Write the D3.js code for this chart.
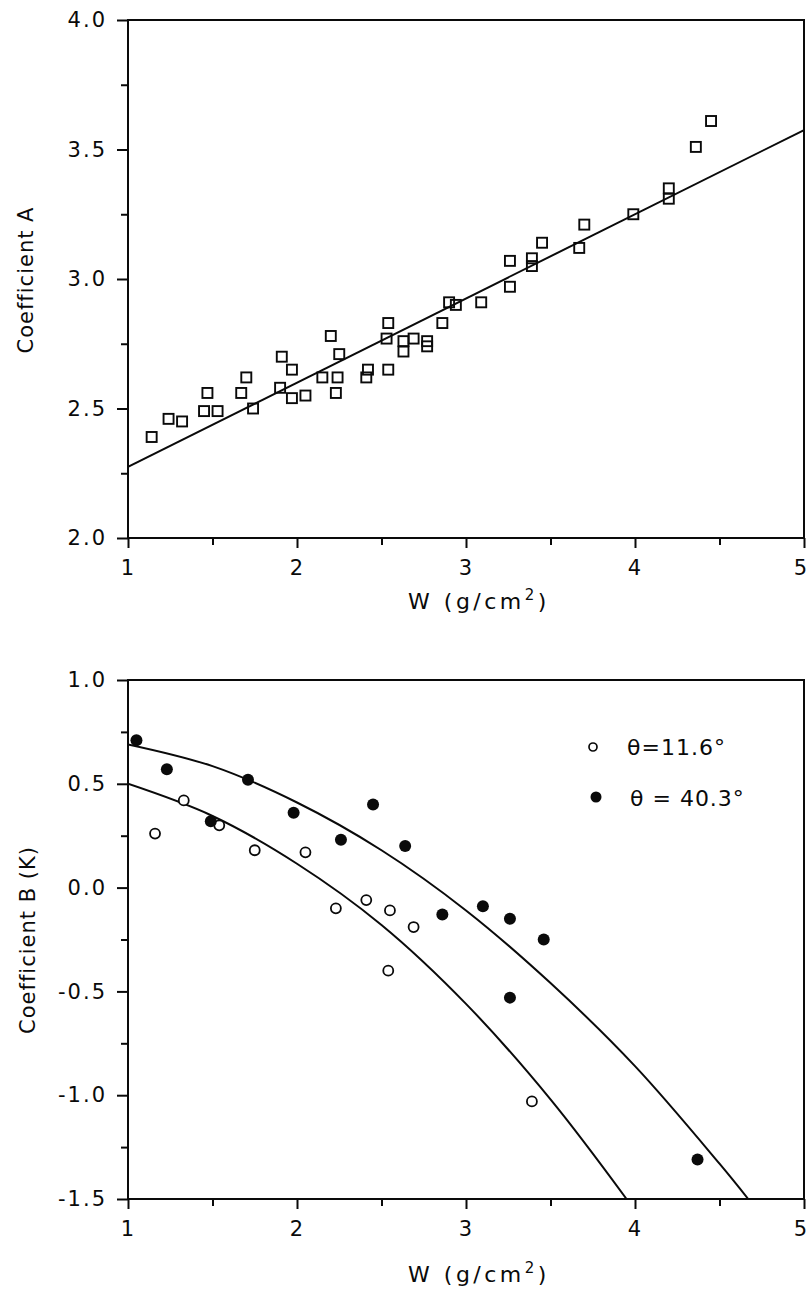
<!DOCTYPE html>
<html><head><meta charset="utf-8">
<script src="https://cdn.jsdelivr.net/npm/d3@7"></script>
<style>
body{margin:0;background:#fff}
svg{display:block}
text{font-family:"DejaVu Sans",sans-serif;fill:#0a0a0a}
</style>
</head><body>
<svg id="c" width="810" height="1292"></svg>
<script>
// ---- Data ----
const xTicks = [1, 2, 3, 4, 5];
const xMinor = [1.5, 2.5, 3.5, 4.5];

// Top panel: Coefficient A vs W
const aW   = [1.14,1.24,1.32,1.45,1.47,1.53,1.67,1.70,1.74,1.91,1.90,1.97,1.97,2.05,2.15,2.20,2.24,2.23,2.25,2.41,2.42,2.53,2.54,2.54,2.63,2.63,2.69,2.77,2.77,2.86,2.90,2.94,3.09,3.26,3.26,3.39,3.39,3.45,3.67,3.70,3.99,4.20,4.20,4.36,4.45];
const aVal = [2.39,2.46,2.45,2.49,2.56,2.49,2.56,2.62,2.50,2.70,2.58,2.65,2.54,2.55,2.62,2.78,2.62,2.56,2.71,2.62,2.65,2.77,2.83,2.65,2.76,2.72,2.77,2.76,2.74,2.83,2.91,2.90,2.91,2.97,3.07,3.08,3.05,3.14,3.12,3.21,3.25,3.35,3.31,3.51,3.61];
const fitAW = [1, 5];
const fitA  = [2.275, 3.575];
const aTicks = [2.0, 2.5, 3.0, 3.5, 4.0];
const aMinor = [2.25, 2.75, 3.25, 3.75];

// Bottom panel: Coefficient B vs W
const b11W = [1.16,1.33,1.54,1.75,2.05,2.23,2.41,2.55,2.69,2.54,3.39];
const b11  = [0.26,0.42,0.30,0.18,0.17,-0.10,-0.06,-0.11,-0.19,-0.40,-1.03];
const b40W = [1.05,1.23,1.49,1.71,1.98,2.26,2.45,2.64,2.86,3.10,3.26,3.46,3.26,4.37];
const b40  = [0.71,0.57,0.32,0.52,0.36,0.23,0.40,0.20,-0.13,-0.09,-0.15,-0.25,-0.53,-1.31];
const fit11W = [1.0, 1.5, 2.0, 2.5, 3.0, 3.5, 3.95];
const fit11  = [0.50, 0.345, 0.115, -0.18, -0.56, -1.02, -1.50];
const fit40W = [1.0, 1.5, 2.0, 2.5, 3.0, 3.5, 4.0, 4.5, 4.67];
const fit40  = [0.69, 0.585, 0.41, 0.18, -0.11, -0.46, -0.86, -1.33, -1.50];
const bTicks = [-1.5, -1.0, -0.5, 0.0, 0.5, 1.0];
const bMinor = [-1.25, -0.75, -0.25, 0.25, 0.75];
const legendLabels = ["θ=11.6°", "θ = 40.3°"];
const xTitle = ["W (g/cm", "2", ")"];

// ---- Drawing ----
const svg = d3.select("#c");
const L = 128, R = 804;
const x = d3.scaleLinear().domain([1, 5]).range([L, R]);
const ink = "#0a0a0a";

function panel(top, bottom, ydom, ticks, minor, yTitle, titleY, titleBase, xTitleBase) {
  const y = d3.scaleLinear().domain(ydom).range([bottom, top]);
  const g = svg.append("g");
  const axL = g.append("g").attr("transform", `translate(${L},0)`)
    .call(d3.axisLeft(y).tickValues(ticks).tickSize(11).tickPadding(12).tickFormat(d => d.toFixed(1)));
  const axLm = g.append("g").attr("transform", `translate(${L},0)`)
    .call(d3.axisLeft(y).tickValues(minor).tickSize(7).tickFormat(""));
  const axB = g.append("g").attr("transform", `translate(0,${bottom})`)
    .call(d3.axisBottom(x).tickValues(xTicks).tickSize(10).tickPadding(12).tickFormat(d3.format("d")));
  const axBm = g.append("g").attr("transform", `translate(0,${bottom})`)
    .call(d3.axisBottom(x).tickValues(xMinor).tickSize(7).tickFormat(""));
  [axL, axLm, axB, axBm].forEach(a => {
    a.select(".domain").remove();
    a.selectAll("line").attr("stroke", ink).attr("stroke-width", 2);
    a.selectAll("text").attr("font-size", 21).attr("letter-spacing", 2)
      .attr("font-family", '"DejaVu Sans",sans-serif').attr("fill", ink);
  });
  axL.selectAll("text").attr("dx", 2);
  axB.selectAll("text").filter(d => d === 5).attr("dx", -3);
  g.append("rect").attr("x", L).attr("y", top).attr("width", R - L).attr("height", bottom - top)
    .attr("fill", "none").attr("stroke", ink).attr("stroke-width", 2);
  g.append("text").attr("transform", `translate(${titleBase},${titleY}) rotate(-90)`)
    .attr("text-anchor", "middle").attr("font-size", 21).attr("letter-spacing", 1)
    .text(yTitle);
  const t = g.append("text").attr("x", 479).attr("y", xTitleBase).attr("text-anchor", "middle")
    .attr("font-size", 22).attr("letter-spacing", 3.5);
  t.append("tspan").text(xTitle[0]);
  t.append("tspan").attr("font-size", 15).attr("dy", -9).text(xTitle[1]);
  t.append("tspan").attr("dy", 9).text(xTitle[2]);
  const id = "clip" + top;
  svg.append("clipPath").attr("id", id).append("rect")
    .attr("x", L).attr("y", top).attr("width", R - L).attr("height", bottom - top);
  return {g, y, id};
}

// Top panel
const p1 = panel(20, 538, [2, 4], aTicks, aMinor, "Coefficient A", 280, 33, 609);
p1.g.append("path").datum(fitAW.map((w, i) => [w, fitA[i]]))
  .attr("clip-path", `url(#${p1.id})`)
  .attr("d", d3.line().x(d => x(d[0])).y(d => p1.y(d[1])))
  .attr("fill", "none").attr("stroke", ink).attr("stroke-width", 2);
p1.g.selectAll("rect.pt").data(aW.map((w, i) => [w, aVal[i]])).join("rect")
  .attr("class", "pt")
  .attr("x", d => x(d[0]) - 5).attr("y", d => p1.y(d[1]) - 5)
  .attr("width", 10).attr("height", 10)
  .attr("fill", "none").attr("stroke", ink).attr("stroke-width", 1.9);

// Bottom panel
const p2 = panel(680, 1199, [-1.5, 1.0], bTicks, bMinor, "Coefficient B (K)", 940, 35, 1282);
const cl = d3.line().curve(d3.curveCatmullRom.alpha(0.5)).x(d => x(d[0])).y(d => p2.y(d[1]));
[[fit11W, fit11], [fit40W, fit40]].forEach(([ws, vs]) => {
  p2.g.append("path").datum(ws.map((w, i) => [w, vs[i]]))
    .attr("clip-path", `url(#${p2.id})`)
    .attr("d", cl).attr("fill", "none").attr("stroke", ink).attr("stroke-width", 2);
});
p2.g.selectAll("circle.o").data(b11W.map((w, i) => [w, b11[i]])).join("circle")
  .attr("class", "o").attr("cx", d => x(d[0])).attr("cy", d => p2.y(d[1])).attr("r", 5)
  .attr("fill", "#fff").attr("stroke", ink).attr("stroke-width", 1.8);
p2.g.selectAll("circle.f").data(b40W.map((w, i) => [w, b40[i]])).join("circle")
  .attr("class", "f").attr("cx", d => x(d[0])).attr("cy", d => p2.y(d[1])).attr("r", 6)
  .attr("fill", ink);

// Legend
const lg = p2.g.append("g");
lg.append("circle").attr("cx", 593).attr("cy", 747).attr("r", 4)
  .attr("fill", "#fff").attr("stroke", ink).attr("stroke-width", 1.7);
lg.append("circle").attr("cx", 596).attr("cy", 797).attr("r", 5.5).attr("fill", ink);
lg.append("text").attr("x", 627).attr("y", 755).attr("font-size", 22).attr("letter-spacing", 1).text(legendLabels[0]);
lg.append("text").attr("x", 630).attr("y", 806).attr("font-size", 22).attr("letter-spacing", 1).text(legendLabels[1]);
</script>
</body></html>
